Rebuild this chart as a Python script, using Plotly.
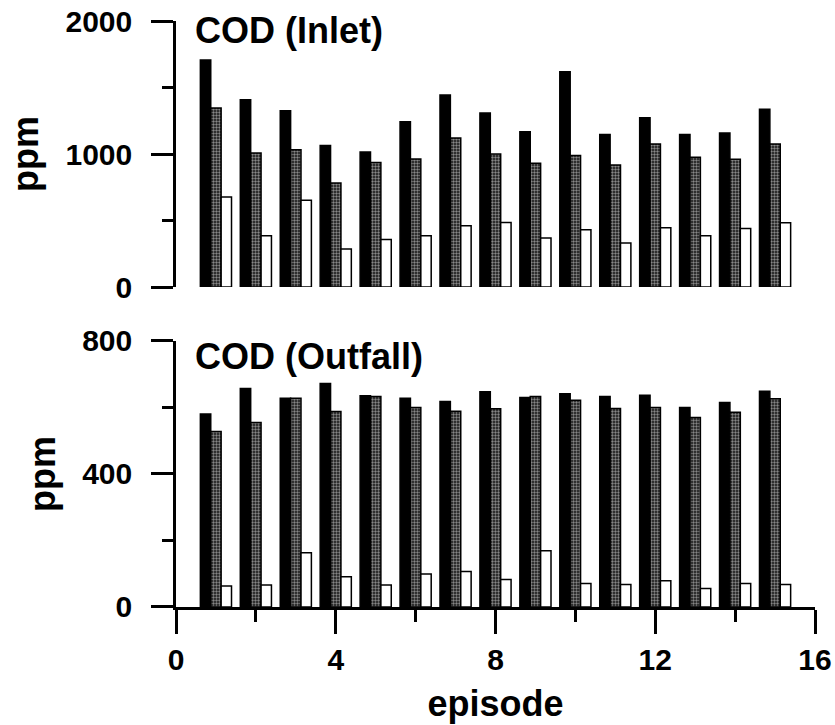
import plotly.graph_objects as go

episodes = list(range(1, 16))

inlet_black = [1707, 1408, 1326, 1065, 1015, 1243, 1444, 1308, 1168, 1619, 1146, 1273, 1146, 1158, 1336]
inlet_hatched = [1346, 1007, 1032, 782, 937, 962, 1120, 1000, 930, 988, 917, 1075, 975, 960, 1075]
inlet_white = [677, 386, 652, 286, 358, 386, 461, 486, 368, 431, 331, 446, 386, 441, 484]

outfall_black = [580, 657, 628, 672, 635, 628, 618, 647, 630, 641, 633, 637, 600, 615, 649]
outfall_hatched = [528, 555, 628, 588, 633, 600, 589, 596, 633, 622, 597, 600, 570, 586, 626]
outfall_white = [63, 66, 163, 91, 66, 99, 107, 83, 169, 71, 68, 79, 56, 71, 68]

FONT = "Liberation Sans"

fig = go.Figure()

def add_bars(vals_b, vals_h, vals_w, xa, ya):
    fig.add_trace(go.Bar(x=episodes, y=vals_b, xaxis=xa, yaxis=ya, offsetgroup="a",
                         marker=dict(color="black", line=dict(color="black", width=1.5)),
                         showlegend=False))
    fig.add_trace(go.Bar(x=episodes, y=vals_h, xaxis=xa, yaxis=ya, offsetgroup="b",
                         marker=dict(color="black", line=dict(color="black", width=1.5),
                                     pattern=dict(shape=".", size=3, solidity=0.5,
                                                  fgcolor="white", bgcolor="#111111")),
                         showlegend=False))
    fig.add_trace(go.Bar(x=episodes, y=vals_w, xaxis=xa, yaxis=ya, offsetgroup="c",
                         marker=dict(color="white", line=dict(color="black", width=1.5)),
                         showlegend=False))

add_bars(inlet_black, inlet_hatched, inlet_white, "x", "y")
add_bars(outfall_black, outfall_hatched, outfall_white, "x2", "y2")

tickfont = dict(family=FONT, size=30, color="black")
titlefont = dict(family=FONT, size=36, color="black")

yaxis_common = dict(
    showline=True, linecolor="black", linewidth=2.5,
    ticks="outside", ticklen=22, tickwidth=2.5, tickcolor="black",
    showgrid=False, zeroline=False, automargin=False,
    tickfont=tickfont, ticklabelstandoff=13, ticklabeloverflow="allow",
)

fig.update_layout(
    width=835, height=725,
    margin=dict(l=176, r=20, t=21, b=118),
    paper_bgcolor="white", plot_bgcolor="white",
    barmode="group", bargap=0.22, bargroupgap=0,
    font=dict(family=FONT, color="black"),
    xaxis=dict(domain=[0, 1], range=[0, 16], anchor="y", showline=False, automargin=False,
               showticklabels=False, ticks="", showgrid=False, zeroline=False),
    yaxis=dict(domain=[0.546, 1], range=[0, 2000], anchor="x",
               tickvals=[0, 1000, 2000], ticktext=["<b>0</b>", "<b>1000</b>", "<b>2000</b>"],
               minor=dict(tickvals=[500, 1500], ticklen=11, tickwidth=2.5, tickcolor="black", ticks="outside"),
               title=dict(text="<b>ppm</b>", font=titlefont, standoff=16),
               **yaxis_common),
    xaxis2=dict(domain=[0, 1], range=[0, 16], anchor="y2", automargin=False,
                showline=True, linecolor="black", linewidth=2.5,
                ticks="outside", ticklen=24, tickwidth=2.5, tickcolor="black",
                tickvals=[0, 4, 8, 12, 16],
                ticktext=["<b>0</b>", "<b>4</b>", "<b>8</b>", "<b>12</b>", "<b>16</b>"],
                minor=dict(tickvals=[2, 6, 10, 14], ticklen=12, tickwidth=2.5, tickcolor="black", ticks="outside"),
                tickfont=tickfont, ticklabelstandoff=0, ticklabeloverflow="allow",
                showgrid=False, zeroline=False,
                title=dict(text="<b>episode</b>", font=titlefont, standoff=17)),
    yaxis2=dict(domain=[0, 0.454], range=[0, 800], anchor="x2",
                tickvals=[0, 400, 800], ticktext=["<b>0</b>", "<b>400</b>", "<b>800</b>"],
                minor=dict(tickvals=[200, 600], ticklen=11, tickwidth=2.5, tickcolor="black", ticks="outside"),
                title=dict(text="<b>ppm</b>", font=titlefont, standoff=16),
                **yaxis_common),
    annotations=[
        dict(text="<b>COD (Inlet)</b>", xref="x", yref="y", x=0.43, y=1932,
             xanchor="left", yanchor="middle", showarrow=False, font=titlefont),
        dict(text="<b>COD (Outfall)</b>", xref="x2", yref="y2", x=0.43, y=753,
             xanchor="left", yanchor="middle", showarrow=False, font=titlefont),
    ],
)

fig.write_html("out.html",
               config={"displayModeBar": False},
               post_script="document.body.style.margin='0';document.body.style.overflow='hidden';")
